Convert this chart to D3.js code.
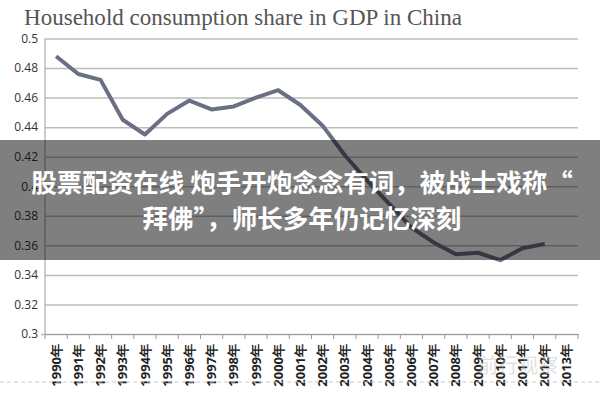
<!DOCTYPE html>
<html><head><meta charset="utf-8">
<script src="https://cdn.jsdelivr.net/npm/d3@7"></script>
<style>body{margin:0;background:#fff}svg{display:block}</style>
</head><body>
<svg id="c" width="600" height="400"></svg>
<script>
const years = ["1990","1991","1992","1993","1994","1995","1996","1997","1998","1999","2000","2001","2002","2003","2004","2005","2006","2007","2008","2009","2010","2011","2012","2013"];
const shareValues = [0.488,0.476,0.472,0.445,0.435,0.449,0.458,0.452,0.454,0.460,0.465,0.455,0.441,0.421,0.404,0.388,0.372,0.362,0.354,0.355,0.350,0.358,0.361,null];
const yTicks = [0.3,0.32,0.34,0.36,0.38,0.4,0.42,0.44,0.46,0.48,0.5];
const titleText = "Household consumption share in GDP in China";
const overlayLines = ["股票配资在线 炮手开炮念念有词，被战士戏称“","拜佛”，师长多年仍记忆深刻"];
const watermark = "前行观察";

const svg = d3.select("#c");
const L = 45, R = 578, T = 38.5, B = 334;
const x = d3.scaleBand().domain(years).range([L, R]);
const y = d3.scaleLinear().domain([0.3, 0.5]).range([B, T]);

svg.append("text").attr("x", 24).attr("y", 25).text(titleText)
  .attr("font-family", "Liberation Serif, serif").attr("font-size", 23)
  .attr("fill", "#555").attr("textLength", 438).attr("lengthAdjust", "spacingAndGlyphs");

// y axis + grid
const ya = svg.append("g").attr("transform", `translate(${L},0)`)
  .call(d3.axisLeft(y).tickValues(yTicks).tickSize(-(R - L)).tickPadding(7)
    .tickFormat(d => String(+d.toFixed(2))));
ya.select(".domain").remove();
ya.selectAll("line").attr("stroke", "#bdbdbd").attr("stroke-width", 1.5);
ya.selectAll("text").attr("font-family", "Open Sans, sans-serif").attr("font-size", 12).attr("fill", "#333");
ya.selectAll(".tick").filter(d => d === 0.3).select("line").attr("x1", -4);

svg.append("line").attr("x1", L).attr("x2", L).attr("y1", T).attr("y2", B)
  .attr("stroke", "#aaa").attr("stroke-width", 1.2);

// x axis
const xa = svg.append("g").attr("transform", `translate(0,${B})`)
  .call(d3.axisBottom(x).tickSize(0).tickPadding(0).tickFormat(d => d + "年"));
xa.select(".domain").attr("stroke", "#999").attr("stroke-width", 1.2);
xa.selectAll("text").attr("transform", "rotate(-90)").attr("text-anchor", "end")
  .attr("x", -10).attr("y", 0).attr("dy", "0.35em")
  .attr("font-family", "Open Sans, sans-serif").attr("font-size", 13).attr("font-weight", "bold").attr("fill", "#222");
svg.append("g").selectAll("line").data(years.concat(["end"])).join("line")
  .attr("x1", d => d === "end" ? R : x(d)).attr("x2", d => d === "end" ? R : x(d))
  .attr("y1", B).attr("y2", B + 5).attr("stroke", "#999").attr("stroke-width", 1);

// data line
const line = d3.line().defined(d => d.v != null)
  .x(d => x(d.y) + x.bandwidth() / 2).y(d => y(d.v));
svg.append("path").datum(years.map((yr, i) => ({ y: yr, v: shareValues[i] })))
  .attr("d", line).attr("fill", "none").attr("stroke", "#6b6f84")
  .attr("stroke-width", 4).attr("stroke-linejoin", "round");

// dashed separator
svg.append("line").attr("x1", 0).attr("x2", 600).attr("y1", 382).attr("y2", 382)
  .attr("stroke", "#ccc").attr("stroke-dasharray", "4,3").attr("stroke-width", 1);

// watermark
svg.append("text").attr("x", 478).attr("y", 373).text(watermark)
  .attr("font-family", "Noto Sans CJK SC").attr("font-size", 20).attr("fill", "#bbb").attr("opacity", 0.45);

// overlay
svg.append("rect").attr("x", 0).attr("y", 140).attr("width", 600).attr("height", 120)
  .attr("fill", "rgba(0,0,0,0.5)");
svg.append("g").selectAll("text").data(overlayLines).join("text")
  .attr("x", 302).attr("y", (d, i) => 192 + i * 36).attr("text-anchor", "middle")
  .text(d => d).attr("font-family", "Noto Sans CJK SC").attr("font-weight", "bold")
  .attr("font-size", 25.5).attr("fill", "#fff");
</script>
</body></html>
